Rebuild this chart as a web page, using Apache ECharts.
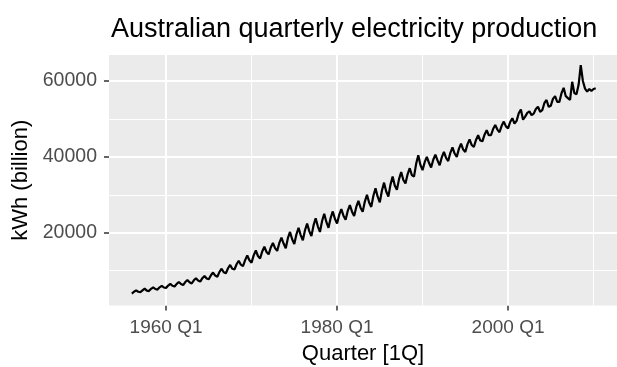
<!DOCTYPE html>
<html>
<head>
<meta charset="utf-8">
<script src="https://cdn.jsdelivr.net/npm/echarts@6/dist/echarts.min.js"></script>
<style>
html,body{margin:0;padding:0;background:#fff;}
#chart{width:617px;height:367px;}
</style>
</head>
<body>
<div id="chart"></div>
<script>
// Data: Australian quarterly electricity production, 1956 Q1 - 2010 Q2
const startYear = 1956;
const electricity = [
  3923, 4436, 4806, 4418,
  4339, 4811, 5259, 4735,
  4600, 5200, 5600, 5150,
  5000, 5600, 6000, 5550,
  5400, 6060, 6500, 6000,
  5800, 6520, 7000, 6460,
  6200, 6980, 7500, 6920,
  6600, 7440, 8000, 7380,
  7100, 8000, 8600, 7930,
  7700, 8780, 9500, 8690,
  8400, 9660, 10500, 9560,
  9300, 10620, 11500, 10510,
  10300, 11680, 12600, 11570,
  11200, 12760, 14000, 12740,
  12100, 14020, 15300, 13860,
  13200, 15060, 16300, 14910,
  14300, 16100, 17300, 15950,
  15200, 17300, 18700, 17130,
  15900, 18560, 20200, 18270,
  17000, 19580, 21300, 19370,
  18000, 20640, 22400, 20420,
  19100, 21920, 23800, 21690,
  20200, 23080, 25000, 22840,
  21300, 23880, 25600, 23670,
  22400, 24680, 26200, 24490,
  23400, 25740, 27300, 25550,
  24400, 26800, 28400, 26600,
  25500, 28200, 30000, 27980,
  26800, 29740, 31700, 29500,
  28000, 31120, 33200, 30860,
  29500, 32680, 34800, 32420,
  31300, 34120, 36000, 33890,
  33000, 35400, 37000, 35200,
  34800, 38160, 40400, 37880,
  36500, 38600, 40000, 38430,
  37200, 39240, 40600, 39070,
  37800, 39900, 41300, 39730,
  38900, 41060, 42500, 40880,
  40000, 42100, 43500, 41930,
  41300, 43280, 44600, 43120,
  42600, 44460, 45700, 44310,
  44100, 45840, 47000, 45700,
  45700, 47320, 48400, 47190,
  46500, 48180, 49300, 48040,
  47500, 49200, 50200, 48800,
  49500, 51500, 52500, 49800,
  50600, 51600, 52000, 51000,
  51400, 52600, 53200, 51900,
  52300, 54200, 55000, 53200,
  53500, 55300, 56000, 54500,
  54500, 56800, 58200, 56000,
  55500, 55000, 59800, 56800,
  56500, 59000, 64200, 60000,
  58000, 57200, 57900, 57400,
  57900, 58100
];
const xMajorTicks = [1960, 1980, 2000];
const xMinorTicks = [1970, 1990, 2010];
const xTickLabels = ['1960 Q1', '1980 Q1', '2000 Q1'];
const yMajorTicks = [20000, 40000, 60000];
const yMinorTicks = [10000, 30000, 50000];
const yTickLabels = ['20000', '40000', '60000'];

const points = electricity.map((v, i) => [startYear + i / 4, v]);

const gridLines = [];
xMajorTicks.forEach(v => gridLines.push({xAxis: v, lineStyle: {width: 2}}));
xMinorTicks.forEach(v => gridLines.push({xAxis: v, lineStyle: {width: 1}}));
yMajorTicks.forEach(v => gridLines.push({yAxis: v, lineStyle: {width: 2}}));
yMinorTicks.forEach(v => gridLines.push({yAxis: v, lineStyle: {width: 1}}));

const FONT = '"Liberation Sans", Arial, Helvetica, sans-serif';
const chart = echarts.init(document.getElementById('chart'), null, {renderer: 'canvas'});
chart.setOption({
  backgroundColor: '#ffffff',
  animation: false,
  textStyle: {fontFamily: FONT},
  title: {
    text: 'Australian quarterly electricity production',
    left: 106, top: 11,
    textStyle: {fontFamily: FONT, fontSize: 27, fontWeight: 'normal', color: '#000'}
  },
  grid: {
    left: 109, right: 0, top: 55, bottom: 61.5,
    containLabel: false,
    outerBoundsMode: 'none',
    show: true, backgroundColor: '#EBEBEB', borderWidth: 0
  },
  xAxis: {
    type: 'value',
    min: 1953.33, max: 2012.74,
    name: 'Quarter [1Q]',
    nameLocation: 'middle',
    nameGap: 37,
    nameTextStyle: {fontFamily: FONT, fontSize: 22, color: '#000'},
    axisLine: {show: false},
    splitLine: {show: false},
    axisTick: {show: true, customValues: xMajorTicks, length: 5, lineStyle: {color: '#333333', width: 1.5}},
    axisLabel: {
      customValues: xMajorTicks,
      margin: 13,
      fontFamily: FONT, fontSize: 19, color: '#4D4D4D',
      formatter: v => xTickLabels[xMajorTicks.indexOf(Math.round(v))] || ''
    }
  },
  yAxis: {
    type: 'value',
    min: 800, max: 66860,
    name: 'kWh (billion)',
    nameLocation: 'middle',
    nameGap: 76,
    nameRotate: 90,
    nameTextStyle: {fontFamily: FONT, fontSize: 22, color: '#000'},
    axisLine: {show: false},
    splitLine: {show: false},
    axisTick: {show: true, customValues: yMajorTicks, length: 5, lineStyle: {color: '#333333', width: 1.5}},
    axisLabel: {
      customValues: yMajorTicks,
      margin: 12,
      fontFamily: FONT, fontSize: 19.5, color: '#4D4D4D',
      formatter: v => yTickLabels[yMajorTicks.indexOf(Math.round(v))] || ''
    }
  },
  series: [
    {
      type: 'line',
      data: points,
      showSymbol: false,
      silent: true,
      z: 1,
      lineStyle: {opacity: 0},
      markLine: {
        silent: true,
        symbol: ['none', 'none'],
        label: {show: false},
        lineStyle: {color: '#ffffff', type: 'solid'},
        data: gridLines
      }
    },
    {
      type: 'line',
      data: points,
      showSymbol: false,
      z: 5,
      lineStyle: {color: '#000000', width: 2.2},
      itemStyle: {color: '#000000'}
    }
  ]
});
</script>
</body>
</html>
